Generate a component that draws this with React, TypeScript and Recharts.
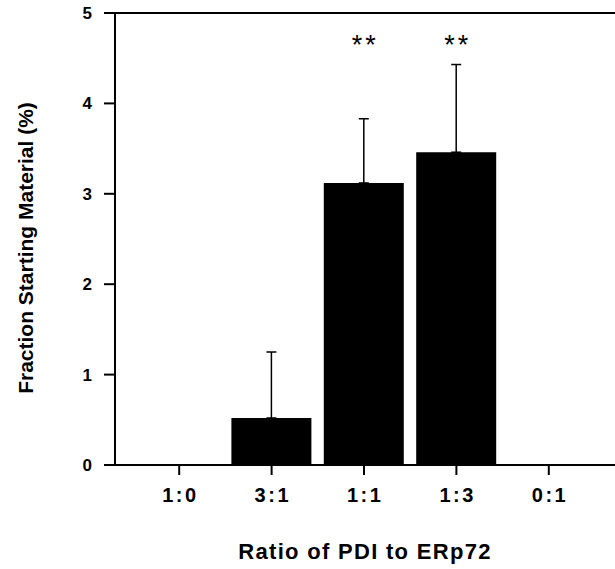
import React from "react";
import {
  BarChart,
  Bar,
  XAxis,
  YAxis,
  ErrorBar,
  LabelList,
  ReferenceLine,
} from "recharts";

const ratios = ["1:0", "3:1", "1:1", "1:3", "0:1"];
const fractionMeans = [0, 0.52, 3.12, 3.46, 0];
const fractionErrUp = [0, 0.73, 0.71, 0.97, 0];
const significance = ["", "", "**", "**", ""];
const yTicks = [0, 1, 2, 3, 4, 5];

const data = ratios.map((r, i) => ({
  ratio: r,
  value: fractionMeans[i],
  err: [0, fractionErrUp[i]],
  sig: significance[i],
}));

const FONT = "'Liberation Sans', Arial, Helvetica, sans-serif";

const YTitle = () => (
  <text
    x={25}
    y={248}
    transform="rotate(-90, 25, 248)"
    textAnchor="middle"
    dominantBaseline="central"
    fontFamily={FONT}
    fontWeight="bold"
    fontSize={21}
    fill="#000"
  >
    Fraction Starting Material (%)
  </text>
);

const XTitle = () => (
  <text
    x={365}
    y={551}
    textAnchor="middle"
    dominantBaseline="central"
    fontFamily={FONT}
    fontWeight="bold"
    fontSize={22}
    letterSpacing={1.3}
    fill="#000"
  >
    Ratio of PDI to ERp72
  </text>
);

// category tick, slightly tracked like the source figure
const XTick = (props: any) => {
  const { x, y, payload } = props;
  return (
    <text
      x={x + 1.2}
      y={y - 1}
      dy="0.71em"
      textAnchor="middle"
      fontFamily={FONT}
      fontWeight="bold"
      fontSize={20}
      letterSpacing={2.5}
      fill="#000"
    >
      {payload.value}
    </text>
  );
};

const renderStars = (props: any) => {
  const { x, width, value } = props;
  if (!value) return null;
  return (
    <text
      x={Number(x) + Number(width) / 2 + 1.5}
      y={54}
      textAnchor="middle"
      fontFamily={FONT}
      fontSize={27}
      letterSpacing={3}
      fill="#000"
    >
      {value}
    </text>
  );
};

export default function App() {
  return (
    <div style={{ position: "absolute", left: 0, top: 0, fontFamily: FONT }}>
      <BarChart
        width={615}
        height={569}
        data={data}
        margin={{ top: 13, right: 0, left: 0, bottom: 0 }}
      >
        <XAxis
          dataKey="ratio"
          height={104}
          padding={{ left: 18, right: 20 }}
          stroke="#000"
          strokeWidth={2}
          tickSize={10}
          tickMargin={14}
          tick={<XTick />}
          label={<XTitle />}
        />
        <YAxis
          width={115}
          domain={[0, 5]}
          ticks={yTicks}
          stroke="#000"
          strokeWidth={2}
          tickSize={11}
          tickMargin={12}
          tick={{ fill: "#000", fontSize: 17, fontWeight: "bold", fontFamily: FONT }}
          label={<YTitle />}
        />
        <ReferenceLine y={5} stroke="#000" strokeWidth={2} />
        <Bar dataKey="value" fill="#000" barSize={80} isAnimationActive={false}>
          <ErrorBar dataKey="err" width={5} stroke="#000" strokeWidth={1.5} direction="y" />
          <LabelList dataKey="sig" content={renderStars} />
        </Bar>
      </BarChart>
    </div>
  );
}
